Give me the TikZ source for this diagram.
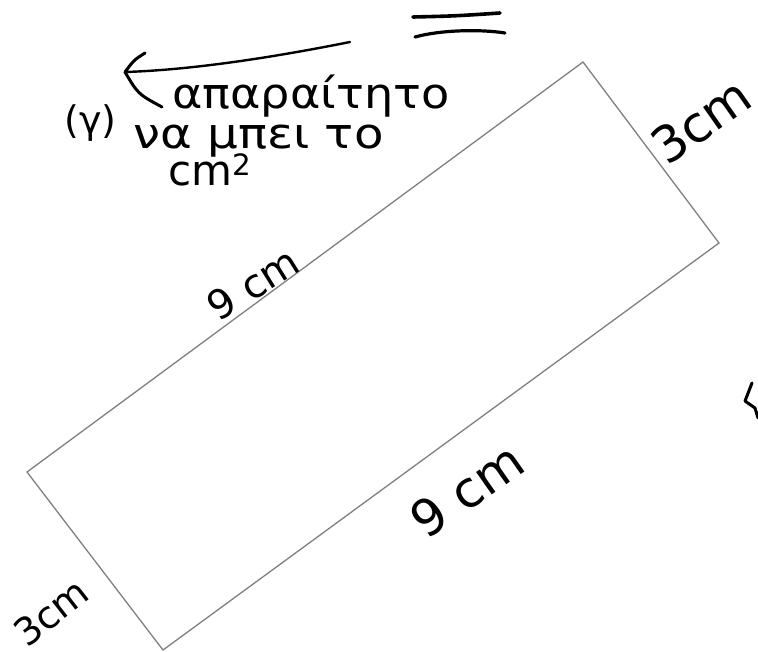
\documentclass[tikz,border=0pt]{standalone}
\usepackage{fontspec}
\setmainfont{DejaVu Sans}
\begin{document}
\begin{tikzpicture}[x=1pt,y=-1pt,
  hand/.style={inner sep=0pt, text=black},
  pen/.style={line width=3pt, line cap=round, line join=round, draw=black},
  edge/.style={line width=1.3pt, draw=black!50}]
\useasboundingbox[fill=white] (0,0) rectangle (758,651);
% rectangle
\coordinate (T) at (583,62);
\coordinate (R) at (719,243);
\coordinate (B) at (163,650);
\coordinate (L) at (27,472);
\draw[edge] (T) -- (R) -- (B) -- (L) -- cycle;
% side labels
\node[hand, rotate=32, font=\fontsize{40}{40}\selectfont] (topnine) at (253,284) {9 cm};
\node[hand, rotate=35, font=\fontsize{50}{50}\selectfont] (botnine) at (467,490) {9 cm};
\node[hand, rotate=35, font=\fontsize{50}{50}\selectfont] (rthree) at (701,121) {3cm};
\node[hand, rotate=38, font=\fontsize{38}{38}\selectfont] (lthree) at (51,612) {3cm};
% note
\node[hand, anchor=base west, font=\fontsize{38}{38}\selectfont] (gamma) at (64,133) {(γ)};
\node[hand, anchor=base west, font=\fontsize{42}{42}\selectfont, xscale=1.1] (line1) at (172,108) {απαραίτητο};
\node[hand, anchor=base west, font=\fontsize{42}{42}\selectfont, xscale=1.15] (line2) at (133,148) {να μπει το};
\node[hand, anchor=base west, font=\fontsize{42}{42}\selectfont] (line3) at (168,185) {cm\textsuperscript{2}};
% arrow
\coordinate (atail) at (350,42);
\coordinate (atip) at (125,72);
\draw[pen, line width=2.4pt] (atail) .. controls (270,58) and (190,70) .. (atip);
\draw[pen] (145,53) .. controls (134,60) .. (atip) .. controls (138,94) .. (162,107);
% equals sign
\draw[pen, line width=3.6pt] (413,17) .. controls (455,16) .. (500,13);
\draw[pen, line width=3.2pt] (415,37) .. controls (440,30) and (480,29) .. (505,33);
% fragment at right edge
\draw[pen] (752,383) -- (745,401) .. controls (750,405) .. (755,408) -- (758,418);
\end{tikzpicture}
\end{document}
